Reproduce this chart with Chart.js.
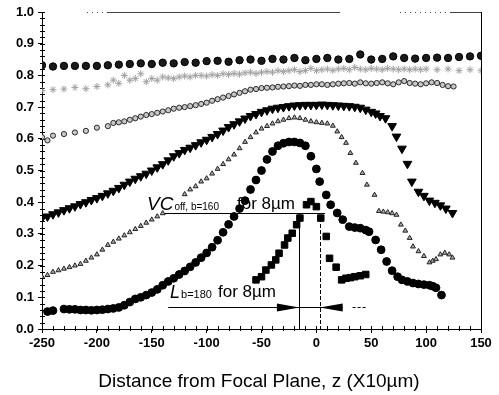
<!DOCTYPE html>
<html>
<head>
<meta charset="utf-8">
<script src="https://cdn.jsdelivr.net/npm/chart.js"></script>
<style>
  html, body { margin: 0; padding: 0; background: #fff; }
  #wrap { width: 499px; height: 395px; }
</style>
</head>
<body>
<div id="wrap"><canvas id="myChart" width="499" height="395"></canvas></div>
<script>
// x tick labels
const xTicks = [-250, -200, -150, -100, -50, 0, 50, 100, 150];
const yTicks = [0.0, 0.1, 0.2, 0.3, 0.4, 0.5, 0.6, 0.7, 0.8, 0.9, 1.0];

// top row, dark circles
const z1 = [-250,-240,-230,-220,-210,-200,-190,-180,-170,-160,-150,-140,-130,-120,-110,-100,-90,-80,-70,-60,-50,-40,-30,-20,-10,0,10,20,30,40,50,60,70,80,90,100,110,120,130,140,150];
const v1 = [0.832,0.828,0.83,0.83,0.83,0.83,0.832,0.834,0.836,0.838,0.836,0.84,0.838,0.842,0.84,0.845,0.846,0.843,0.848,0.85,0.846,0.852,0.85,0.855,0.848,0.852,0.855,0.85,0.852,0.866,0.85,0.852,0.86,0.855,0.853,0.855,0.856,0.855,0.858,0.86,0.862];

// light grey row
const z2 = [-250,-240,-230,-220,-210,-200,-190,-185,-180,-175,-170,-165,-160,-155,-150,-145,-140,-135,-130,-125,-120,-115,-110,-105,-100,-95,-90,-85,-80,-75,-70,-65,-60,-55,-50,-45,-40,-35,-30,-25,-20,-15,-10,-5,0,5,10,15,20,25,30,35,40,45,50,55,60,65,70,75,80,85,90,95,100,110,120,130,140,150];
const v2 = [0.752,0.755,0.757,0.762,0.758,0.765,0.77,0.785,0.775,0.8,0.785,0.79,0.805,0.78,0.79,0.785,0.795,0.792,0.79,0.795,0.798,0.795,0.8,0.8,0.798,0.802,0.8,0.805,0.803,0.806,0.804,0.808,0.81,0.806,0.81,0.812,0.81,0.815,0.812,0.815,0.818,0.812,0.815,0.822,0.815,0.818,0.82,0.816,0.82,0.822,0.818,0.825,0.82,0.818,0.822,0.82,0.818,0.822,0.82,0.818,0.82,0.818,0.82,0.818,0.82,0.818,0.82,0.815,0.818,0.815];

// open circles row
const z3 = [-250,-245,-240,-230,-220,-210,-200,-190,-185,-180,-175,-170,-165,-160,-155,-150,-145,-140,-135,-130,-125,-120,-115,-110,-105,-100,-95,-90,-85,-80,-75,-70,-65,-60,-55,-50,-45,-40,-35,-30,-25,-20,-15,-10,-5,0,5,10,15,20,25,30,35,40,45,50,55,60,65,70,75,80,85,90,95,100,105,110,115,120,125];
const v3 = [0.605,0.595,0.61,0.615,0.62,0.625,0.635,0.64,0.65,0.652,0.655,0.66,0.665,0.67,0.675,0.678,0.682,0.686,0.69,0.695,0.698,0.7,0.703,0.706,0.71,0.714,0.72,0.725,0.73,0.735,0.74,0.745,0.75,0.755,0.757,0.76,0.761,0.762,0.764,0.765,0.766,0.768,0.767,0.77,0.77,0.772,0.772,0.77,0.772,0.774,0.775,0.776,0.774,0.778,0.775,0.774,0.776,0.778,0.775,0.772,0.778,0.782,0.776,0.774,0.772,0.775,0.778,0.776,0.77,0.766,0.765];

// filled down triangles
const z4 = [-250,-245,-240,-235,-230,-225,-220,-215,-210,-205,-200,-195,-190,-185,-180,-175,-170,-165,-160,-155,-150,-145,-140,-135,-130,-125,-120,-115,-110,-105,-100,-95,-90,-85,-80,-75,-70,-65,-60,-55,-50,-45,-40,-35,-30,-25,-20,-15,-10,-5,0,5,10,15,20,25,30,35,40,45,50,54,58,63,69,73,78,83,87,93,98,103,108,113,118,124];
const v4 = [0.35,0.355,0.362,0.368,0.375,0.381,0.387,0.394,0.4,0.407,0.413,0.42,0.428,0.436,0.445,0.455,0.465,0.474,0.482,0.49,0.5,0.51,0.52,0.532,0.545,0.555,0.565,0.572,0.58,0.589,0.597,0.606,0.615,0.626,0.637,0.646,0.655,0.664,0.672,0.678,0.685,0.69,0.695,0.698,0.7,0.703,0.705,0.706,0.707,0.707,0.707,0.708,0.707,0.706,0.705,0.704,0.703,0.701,0.698,0.692,0.685,0.68,0.672,0.665,0.64,0.607,0.569,0.521,0.465,0.433,0.42,0.405,0.398,0.39,0.38,0.366];

// small up triangles
const z5 = [-250,-245,-240,-235,-230,-225,-220,-215,-210,-205,-200,-195,-190,-185,-180,-175,-170,-165,-160,-155,-150,-145,-140,-120,-115,-110,-105,-100,-95,-90,-85,-80,-75,-70,-65,-60,-55,-50,-45,-40,-35,-30,-25,-20,-15,-10,-5,0,5,10,15,19,23,27,31,36,42,46,53,57,61,65,69,73,77,81,85,88,93,98,103,106,109,113,117,121,124];
const v5 = [0.165,0.17,0.18,0.185,0.19,0.195,0.2,0.205,0.215,0.225,0.235,0.25,0.265,0.275,0.285,0.295,0.305,0.315,0.325,0.335,0.345,0.355,0.365,0.425,0.44,0.45,0.465,0.475,0.49,0.505,0.52,0.535,0.55,0.57,0.59,0.605,0.62,0.632,0.64,0.648,0.655,0.66,0.665,0.667,0.665,0.66,0.655,0.652,0.65,0.648,0.641,0.623,0.605,0.587,0.555,0.524,0.492,0.455,0.423,0.372,0.37,0.368,0.365,0.36,0.329,0.31,0.287,0.26,0.245,0.23,0.21,0.215,0.22,0.235,0.24,0.235,0.225];

// big filled circles
const z6 = [-245,-240,-230,-225,-220,-215,-210,-205,-200,-195,-190,-185,-180,-175,-170,-165,-160,-155,-150,-145,-140,-135,-130,-125,-120,-115,-110,-105,-100,-95,-90,-85,-80,-75,-70,-65,-60,-55,-50,-45,-40,-35,-30,-25,-20,-15,-10,-5,0,3,9,13,19,24,30,35,40,45,48,54,59,64,69,74,78,83,88,93,98,103,106,109,114];
const v6 = [0.055,0.058,0.063,0.062,0.062,0.06,0.06,0.059,0.06,0.061,0.063,0.065,0.068,0.075,0.085,0.095,0.1,0.107,0.115,0.125,0.138,0.15,0.16,0.172,0.183,0.196,0.21,0.225,0.24,0.258,0.28,0.305,0.33,0.355,0.38,0.405,0.44,0.47,0.5,0.535,0.56,0.578,0.586,0.59,0.59,0.587,0.578,0.545,0.505,0.465,0.423,0.392,0.366,0.345,0.323,0.32,0.318,0.312,0.307,0.281,0.25,0.213,0.184,0.165,0.155,0.15,0.145,0.142,0.14,0.138,0.135,0.13,0.107];

// filled squares
const z7 = [-55,-50,-46,-41,-37,-34,-29,-26,-22,-18,-15,-9,-5,0,4,9,12,18,23,27,31,35,40,45];
const v7 = [0.155,0.165,0.186,0.202,0.218,0.239,0.265,0.287,0.302,0.329,0.35,0.392,0.402,0.386,0.35,0.292,0.223,0.195,0.155,0.16,0.162,0.165,0.168,0.172];

// annotation levels (data units)
const vcLevel = 0.365;
const lLevel = 0.068;

function pts(zs, vs) { return zs.map((z, i) => ({ x: z, y: vs[i] })); }

const fnt = 'Arial, "Liberation Sans", sans-serif';

const extras = {
  id: 'extras',
  beforeDatasetsDraw(chart) {
    const { ctx, chartArea: a, scales: { x, y } } = chart;
    ctx.save();
    // frame top/right
    ctx.strokeStyle = '#000';
    ctx.lineWidth = 1;
    ctx.beginPath();
    ctx.moveTo(a.right + 0.5, a.top); ctx.lineTo(a.right + 0.5, a.bottom);
    ctx.stroke();
    ctx.strokeStyle = '#444';
    ctx.beginPath();
    ctx.moveTo(108, a.top + 0.5); ctx.lineTo(340, a.top + 0.5);
    ctx.moveTo(450, a.top + 0.5); ctx.lineTo(a.right, a.top + 0.5);
    ctx.stroke();
    ctx.setLineDash([1, 4]);
    ctx.beginPath();
    ctx.moveTo(87, a.top + 0.5); ctx.lineTo(108, a.top + 0.5);
    ctx.moveTo(400, a.top + 0.5); ctx.lineTo(450, a.top + 0.5);
    ctx.stroke();
    ctx.setLineDash([]);
    // minor ticks
    ctx.strokeStyle = '#000';
    ctx.beginPath();
    for (let v = -250; v <= 150; v += 10) {
      const px = Math.round(x.getPixelForValue(v)) + 0.5;
      ctx.moveTo(px, a.bottom - 3); ctx.lineTo(px, a.bottom + 2);
    }
    for (let k = 0; k <= 50; k++) {
      const py = Math.round(y.getPixelForValue(k * 0.02)) + 0.5;
      ctx.moveTo(a.left - 2, py); ctx.lineTo(a.left + 3, py);
    }
    ctx.stroke();
    ctx.restore();
  },
  afterDatasetsDraw(chart) {
    const { ctx, chartArea: a, scales: { x, y } } = chart;
    ctx.save();
    ctx.fillStyle = '#000';
    ctx.strokeStyle = '#000';
    ctx.lineWidth = 1;
    const yv = Math.round(y.getPixelForValue(vcLevel)) + 0.5;
    const yl = Math.round(y.getPixelForValue(lLevel)) + 0.5;
    // VC line
    ctx.beginPath();
    ctx.moveTo(x.getPixelForValue(-138), yv); ctx.lineTo(x.getPixelForValue(8), yv);
    // vertical solid
    const xa = Math.round(x.getPixelForValue(-15.5)) + 0.5;
    ctx.moveTo(xa, yv); ctx.lineTo(xa, a.bottom);
    ctx.stroke();
    // vertical dashed
    const xb = Math.round(x.getPixelForValue(3)) + 0.5;
    ctx.setLineDash([4, 2]);
    ctx.beginPath();
    ctx.moveTo(xb, y.getPixelForValue(0.35)); ctx.lineTo(xb, a.bottom);
    ctx.stroke();
    ctx.setLineDash([]);
    // L line with arrows
    ctx.beginPath();
    ctx.moveTo(x.getPixelForValue(-135), yl); ctx.lineTo(x.getPixelForValue(24), yl);
    ctx.stroke();
    ctx.beginPath();
    ctx.moveTo(x.getPixelForValue(-36), yl - 4);
    ctx.lineTo(x.getPixelForValue(-15.5), yl);
    ctx.lineTo(x.getPixelForValue(-36), yl + 4);
    ctx.closePath(); ctx.fill();
    ctx.beginPath();
    ctx.moveTo(x.getPixelForValue(24), yl - 4);
    ctx.lineTo(x.getPixelForValue(3), yl);
    ctx.lineTo(x.getPixelForValue(24), yl + 4);
    ctx.closePath(); ctx.fill();
    ctx.setLineDash([3, 2]);
    ctx.beginPath();
    ctx.moveTo(x.getPixelForValue(33), yl); ctx.lineTo(x.getPixelForValue(46), yl);
    ctx.stroke();
    ctx.setLineDash([]);

    // texts
    ctx.textBaseline = 'alphabetic';
    ctx.textAlign = 'left';
    let tx = 147, ty = 210;
    ctx.font = 'italic 19px ' + fnt;
    ctx.fillText('VC', tx, ty); tx += ctx.measureText('VC').width + 1;
    ctx.font = '10px ' + fnt;
    ctx.fillText('off, b=160', tx, ty);
    ctx.font = '17px ' + fnt;
    ctx.fillText('for 8\u00b5m', 237, ty - 1);

    tx = 170; ty = 298;
    ctx.font = 'italic 18px ' + fnt;
    ctx.fillText('L', tx, ty); tx += ctx.measureText('L').width + 1;
    ctx.font = '11px ' + fnt;
    ctx.fillText('b=180', tx, ty);
    ctx.font = '17px ' + fnt;
    ctx.fillText('for 8\u00b5m', 218, ty - 1);

    // axis title
    ctx.textAlign = 'center';
    ctx.font = '19px ' + fnt;
    ctx.fillText('Distance from Focal Plane, z (X10\u00b5m)', 259, 387);
    ctx.restore();
  }
};

const ctx = document.getElementById('myChart');
new Chart(ctx, {
  type: 'scatter',
  data: {
    datasets: [
      { data: pts(z1, v1), pointStyle: 'circle', pointRadius: 3.7, backgroundColor: '#1a1a1a', borderColor: '#000', borderWidth: 1 },
      { data: pts(z2, v2), pointStyle: 'star', pointRadius: 3.5, backgroundColor: '#bbb', borderColor: '#a0a0a0', borderWidth: 1 },
      { data: pts(z3, v3), pointStyle: 'circle', pointRadius: 2.6, backgroundColor: '#c8c8c8', borderColor: '#2a2a2a', borderWidth: 1 },
      { data: pts(z4, v4), pointStyle: 'triangle', rotation: 180, pointRadius: 5, backgroundColor: '#000', borderColor: '#000', borderWidth: 1 },
      { data: pts(z5, v5), pointStyle: 'triangle', pointRadius: 2.8, backgroundColor: '#aaa', borderColor: '#222', borderWidth: 1 },
      { data: pts(z6, v6), pointStyle: 'circle', pointRadius: 3.9, backgroundColor: '#000', borderColor: '#000', borderWidth: 1 },
      { data: pts(z7, v7), pointStyle: 'rect', pointRadius: 4.6, backgroundColor: '#000', borderColor: '#000', borderWidth: 1 }
    ]
  },
  options: {
    responsive: false,
    animation: false,
    events: [],
    layout: { padding: { top: 12, right: 18, left: 0, bottom: 0 } },
    plugins: { legend: { display: false }, tooltip: { enabled: false } },
    scales: {
      x: {
        type: 'linear', min: -250, max: 150,
        afterBuildTicks: (s) => { s.ticks = xTicks.map(v => ({ value: v })); },
        afterFit: (s) => { s.height = 66; },
        grid: { drawOnChartArea: false, drawTicks: true, tickLength: 4, color: '#000' },
        border: { color: '#000', width: 1 },
        ticks: { color: '#000', padding: 3, maxRotation: 0, font: { family: fnt, size: 13, weight: 'bold' } }
      },
      y: {
        type: 'linear', min: 0, max: 1.0,
        afterBuildTicks: (s) => { s.ticks = yTicks.map(v => ({ value: v })); },
        afterFit: (s) => { s.width = 42; },
        grid: { drawOnChartArea: false, drawTicks: true, tickLength: 4, color: '#000' },
        border: { color: '#000', width: 1 },
        ticks: { color: '#000', padding: 4, callback: (v) => Number(v).toFixed(1), font: { family: fnt, size: 13, weight: 'bold' } }
      }
    }
  },
  plugins: [extras]
});
</script>
</body>
</html>
